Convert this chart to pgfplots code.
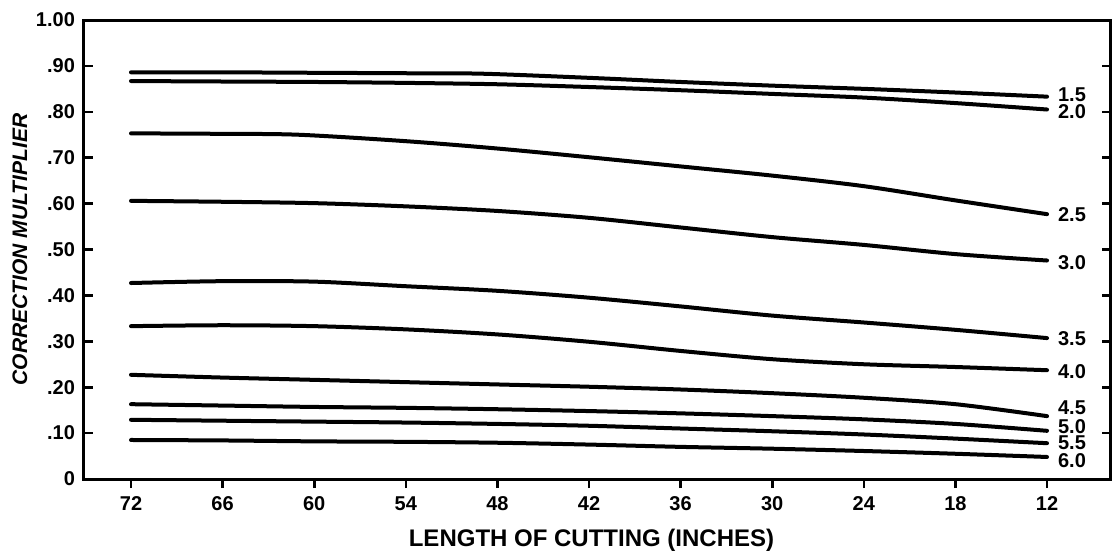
\documentclass[border=0pt]{standalone}
\usepackage{pgfplots}
\pgfplotsset{compat=1.18}
\usepackage{fontspec}
\setmainfont{Liberation Sans}
\begin{document}
\begin{tikzpicture}
\path[use as bounding box] (-42pt,-37pt) rectangle (515pt,239.5pt);
\begin{axis}[
  scale only axis,
  width=513.5pt, height=229.5pt,
  at={(0,0)}, anchor=south west,
  x dir=reverse,
  xmin=7.81, xmax=75.08,
  ymin=0, ymax=1,
  axis line style={line width=1.5pt},
  tick align=inside,
  major tick length=4.5pt,
  every tick/.style={black, line width=1.3pt},
  xtick={72,66,60,54,48,42,36,30,24,18,12},
  xticklabels={72,66,60,54,48,42,36,30,24,18,12},
  xtick pos=bottom,
  xtick style={yshift=-4.5pt},
  ytick={0,0.1,0.2,0.3,0.4,0.5,0.6,0.7,0.8,0.9,1.0},
  yticklabels={0,.10,.20,.30,.40,.50,.60,.70,.80,.90,1.00},
  ytick pos=both,
  yticklabel pos=left,
  /pgf/number format/assume math mode=true,
  ticklabel style={font=\fontsize{10}{12}\selectfont\bfseries},
  xticklabel style={yshift=-5pt, text height=7.2pt, text depth=0pt},
  yticklabel style={xshift=-1pt},
  xlabel={LENGTH OF CUTTING (INCHES)},
  ylabel={CORRECTION MULTIPLIER},
  every axis x label/.style={at={(axis description cs:0.5,0)}, anchor=center, yshift=-30.5pt, xshift=-3pt, font=\fontsize{12}{14}\selectfont\bfseries},
  every axis y label/.style={at={(axis description cs:0,0.5)}, xshift=-32pt, rotate=90, anchor=center, font=\fontsize{10.5}{12}\selectfont\bfseries\itshape},
  clip=false,
  curve/.style={black, solid, line width=2pt, line cap=round, smooth, tension=0.5, mark=none},
]
\addplot[curve] coordinates {(72,0.886)(66,0.886)(60,0.885)(54,0.884)(49,0.883)(42,0.874)(36,0.865)(30,0.857)(24,0.850)(18,0.842)(12,0.833)};
\addplot[curve] coordinates {(72,0.867)(66,0.866)(60,0.865)(54,0.863)(48,0.860)(42,0.854)(36,0.847)(30,0.839)(24,0.831)(18,0.819)(12,0.805)};
\addplot[curve] coordinates {(72,0.753)(66,0.752)(61,0.750)(54,0.736)(48,0.720)(42,0.701)(36,0.681)(30,0.661)(24,0.638)(18,0.607)(12,0.577)};
\addplot[curve] coordinates {(72,0.606)(66,0.604)(60,0.601)(54,0.594)(48,0.584)(42,0.569)(36,0.548)(30,0.527)(24,0.510)(18,0.490)(12,0.476)};
\addplot[curve] coordinates {(72,0.427)(66,0.431)(60,0.430)(54,0.420)(48,0.410)(42,0.395)(36,0.376)(30,0.356)(24,0.341)(18,0.325)(12,0.307)};
\addplot[curve] coordinates {(72,0.333)(66,0.335)(60,0.333)(54,0.326)(48,0.315)(42,0.299)(36,0.279)(30,0.261)(24,0.250)(18,0.244)(12,0.237)};
\addplot[curve] coordinates {(72,0.227)(66,0.221)(60,0.216)(54,0.211)(48,0.206)(42,0.201)(36,0.195)(30,0.187)(24,0.177)(18,0.163)(12,0.137)};
\addplot[curve] coordinates {(72,0.163)(66,0.160)(60,0.157)(54,0.155)(48,0.152)(42,0.148)(36,0.143)(30,0.137)(24,0.130)(18,0.120)(12,0.105)};
\addplot[curve] coordinates {(72,0.129)(66,0.127)(60,0.125)(54,0.123)(48,0.120)(42,0.116)(36,0.110)(30,0.104)(24,0.097)(18,0.088)(12,0.078)};
\addplot[curve] coordinates {(72,0.085)(66,0.084)(60,0.082)(54,0.081)(48,0.079)(42,0.075)(36,0.070)(30,0.066)(24,0.061)(18,0.055)(12,0.048)};
\begin{scope}[every node/.style={anchor=west, inner sep=0pt, font=\fontsize{10}{12}\selectfont\bfseries}]
\node at (axis cs:11.3,0.837) {1.5};
\node at (axis cs:11.3,0.800) {2.0};
\node at (axis cs:11.3,0.577) {2.5};
\node at (axis cs:11.3,0.471) {3.0};
\node at (axis cs:11.3,0.305) {3.5};
\node at (axis cs:11.3,0.235) {4.0};
\node at (axis cs:11.3,0.155) {4.5};
\node at (axis cs:11.3,0.115) {5.0};
\node at (axis cs:11.3,0.078) {5.5};
\node at (axis cs:11.3,0.040) {6.0};
\end{scope}
\end{axis}
\end{tikzpicture}
\end{document}
